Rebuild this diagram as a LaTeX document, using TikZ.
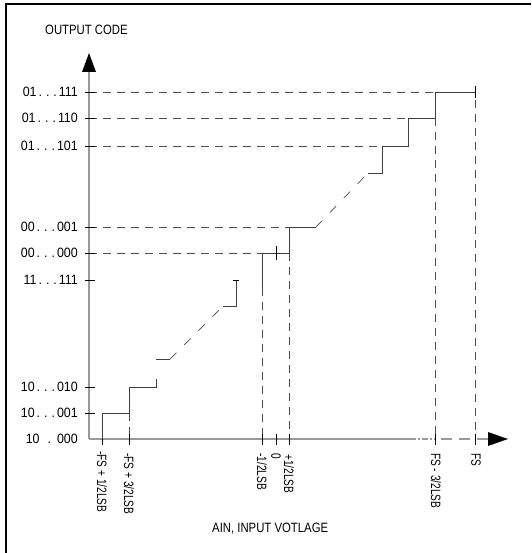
\documentclass[tikz,border=0pt]{standalone}
\usepackage{fontspec}
\setmainfont{Liberation Sans}[FakeStretch=0.84]
\newfontfamily\condfont{Liberation Sans}[FakeStretch=0.75]
\newfontfamily\codefont{Liberation Sans}[FakeStretch=0.92]
\newcommand{\codedots}{\hspace{2pt}.\hspace{4pt}.\hspace{4pt}.\hspace{2pt}}
\begin{document}
\begin{tikzpicture}[x=1pt,y=-1pt,
  axis/.style={draw=black!40,line width=1.2pt},
  stair/.style={draw=black!75,line width=0.8pt},
  guide/.style={draw=black!70,line width=0.7pt,dash pattern=on 8pt off 6pt},
  diag/.style={draw=black!70,line width=0.7pt,dash pattern=on 9pt off 11pt},
  tick/.style={draw=black,line width=0.7pt},
  lbl/.style={font=\fontsize{13.5}{15}\selectfont,inner sep=0pt},
  ylbl/.style={font=\codefont\fontsize{13.5}{15}\selectfont,inner sep=0pt,anchor=east},
  xlbl/.style={font=\condfont\fontsize{13.5}{15}\selectfont,inner sep=0pt,anchor=west,rotate=-90},
  arrowhead/.style={fill=black,draw=none}]
\useasboundingbox (0,0) rectangle (531,553);
% frame
\draw[line width=1.6pt] (6,553) -- (6,4) -- (531,4);
% labels
\node[lbl,anchor=base west] (ylab) at (45,35) {OUTPUT CODE};
\node[lbl,anchor=base west] (xlab) at (212,532) {AIN, INPUT VOTLAGE};
\node[ylbl] (c7) at (78,92) {01\codedots 111};
\node[ylbl] (c6) at (78,118) {01\codedots 110};
\node[ylbl] (c5) at (78,146) {01\codedots 101};
\node[ylbl] (c1) at (78,227) {00\codedots 001};
\node[ylbl] (c0) at (78,253) {00\codedots 000};
\node[ylbl] (cm1) at (78,280) {11\codedots 111};
\node[ylbl] (cb2) at (78,387) {10\codedots 010};
\node[ylbl] (cb1) at (78,413) {10\codedots 001};
\node[ylbl] (cb0) at (78,439) {10\hspace{8pt}.\hspace{6pt}000};
\node[xlbl] (t1) at (102,451) {-FS + 1/2LSB};
\node[xlbl] (t2) at (129,453) {-FS + 3/2LSB};
\node[xlbl] (t3) at (262,453) {-1/2LSB};
\node[xlbl] (t4) at (276,453) {0};
\node[xlbl] (t5) at (289,454) {+1/2LSB};
\node[xlbl] (t6) at (436,453) {FS - 3/2LSB};
\node[xlbl] (t7) at (476,453) {FS};
% dashed guides
\draw[guide] (89,92) -- (435,92);
\draw[guide] (89,118) -- (408,118);
\draw[guide] (89,146) -- (382,146);
\draw[guide] (89,227) -- (289,227);
\draw[guide] (89,253) -- (262,253);
\draw[guide] (435,118) -- (435,439);
\draw[guide] (475,86) -- (475,439);
\draw[guide] (289,253) -- (289,439);
\draw[guide] (262,288) -- (262,439);
\draw[guide] (129,413) -- (129,439);
% axes
\draw[axis] (89,439) -- (89,72);
\draw[axis] (89,439) -- (410,439);
\draw[axis,dash pattern=on 6pt off 2pt on 2pt off 2pt] (410,439) -- (435,439);
\draw[axis,dash pattern=on 11pt off 7pt] (441,439) -- (488,439);
\fill[arrowhead] (89,53) -- (96,72) -- (82,72) -- cycle;
\fill[arrowhead] (508,439) -- (488,446) -- (488,432) -- cycle;
% ticks
\foreach \yy in {92,118,146,227,253,280,387,413}
  \draw[tick] (85,\yy) -- (95,\yy);
\foreach \xx in {102,129,262,276,289,435,475}
  \draw[tick] (\xx,434) -- (\xx,445);
% staircase lower
\draw[stair] (102,439) -- (102,413) -- (129,413) -- (129,387) -- (156,387) -- (156,379);
\draw[stair] (156,359) -- (170,359);
\draw[diag] (170,359) -- (223,306);
\draw[stair] (223,306) -- (236,306) -- (236,280);
\draw[tick] (233,280) -- (239,280);
% staircase middle
\draw[stair] (262,288) -- (262,253) -- (289,253) -- (289,227) -- (316,227);
\draw[tick] (276,246) -- (276,260);
\draw[diag] (316,227) -- (368,173);
\draw[stair] (368,173) -- (382,173) -- (382,146) -- (408,146) -- (408,118) -- (435,118) -- (435,92) -- (475,92);
\draw[tick] (475,86) -- (475,98);
\end{tikzpicture}
\end{document}
